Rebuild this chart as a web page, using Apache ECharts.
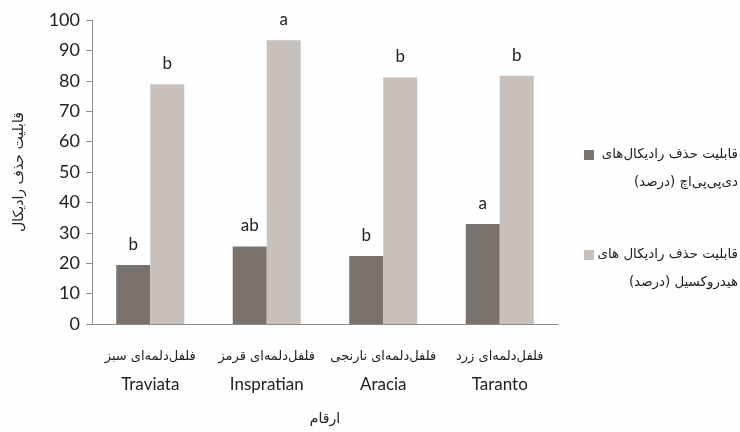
<!DOCTYPE html>
<html>
<head>
<meta charset="utf-8">
<script src="https://cdn.jsdelivr.net/npm/echarts@6/dist/echarts.min.js"></script>
<style>html,body{margin:0;padding:0;background:#fff}#c{width:740px;height:432px}</style>
</head>
<body>
<div id="c"></div>
<script>
const categoriesFa = ['فلفل‌دلمه‌ای سبز', 'فلفل‌دلمه‌ای قرمز', 'فلفل‌دلمه‌ای نارنجی', 'فلفل‌دلمه‌ای زرد'];
const categoriesEn = ['Traviata', 'Inspratian', 'Aracia', 'Taranto'];
const seriesNames = ['قابلیت حذف رادیکال‌های\nدی‌پی‌پی‌اچ (درصد)', 'قابلیت حذف رادیکال های\nهیدروکسیل (درصد)'];
const dpphValues = [19.4, 25.5, 22.4, 32.9];
const hydroxylValues = [78.9, 93.3, 81.1, 81.7];
const dpphLetters = ['b', 'ab', 'b', 'a'];
const hydroxylLetters = ['b', 'a', 'b', 'b'];
const yTicks = [0, 10, 20, 30, 40, 50, 60, 70, 80, 90, 100];
const yAxisName = 'قابلیت حذف رادیکال';
const xAxisName = 'ارقام';

const COLORS = ['#7a726d', '#c8c0bb'];
const FONT = 'Lato, "DejaVu Sans", sans-serif';
const FA_FONT = '"DejaVu Sans", sans-serif';
const AXIS = '#8c8c8c';
const chart = echarts.init(document.getElementById('c'));
function mkData(vals, letters) {
  return vals.map((v, i) => ({ value: v, label: { formatter: letters[i] } }));
}
// legend drawn as graphic items (right-aligned RTL text, icon beside first line)
const legendGraphics = [];
seriesNames.forEach((name, i) => {
  const cy = 155 + i * 100;
  legendGraphics.push({
    type: 'rect', left: 584, top: cy - 5,
    shape: { width: 10, height: 10 },
    style: { fill: COLORS[i] }
  });
  legendGraphics.push({
    type: 'text', x: 738, y: cy - 14,
    style: {
      text: name, align: 'right', verticalAlign: 'top',
      font: '13.4px "DejaVu Sans", sans-serif', lineHeight: 28, fill: '#222'
    }
  });
});
chart.setOption({
  backgroundColor: '#fefefe',
  animation: false,
  grid: { left: 92, right: 182, top: 20, bottom: 108 },
  graphic: legendGraphics,
  xAxis: {
    type: 'category',
    data: categoriesEn,
    name: xAxisName,
    nameLocation: 'middle',
    nameGap: 88,
    nameTextStyle: { fontSize: 14, color: '#222', fontFamily: FA_FONT },
    axisLine: { lineStyle: { color: AXIS } },
    axisTick: { length: 6, lineStyle: { color: AXIS } },
    axisLabel: {
      interval: 0,
      margin: 18,
      formatter: function (v, i) { return '{fa|' + categoriesFa[i] + '}\n{en|' + v + '}'; },
      rich: {
        fa: { fontSize: 13, lineHeight: 30, color: '#222', fontFamily: FA_FONT },
        en: { fontSize: 17, lineHeight: 26, color: '#222', fontFamily: FONT }
      }
    }
  },
  yAxis: {
    type: 'value',
    min: 0,
    max: 100,
    interval: 10,
    name: yAxisName,
    nameLocation: 'middle',
    nameGap: 66,
    nameRotate: 90,
    nameTextStyle: { fontSize: 14, color: '#222', fontFamily: FA_FONT },
    axisLine: { show: true, lineStyle: { color: AXIS } },
    axisTick: { show: true, length: 6, lineStyle: { color: AXIS } },
    splitLine: { show: false },
    axisLabel: {
      margin: 12,
      fontSize: 18,
      color: '#222',
      fontFamily: FONT,
      formatter: function (v) { return yTicks.indexOf(v) >= 0 ? String(v) : ''; }
    }
  },
  series: [
    {
      name: seriesNames[0],
      type: 'bar',
      barWidth: 34,
      barGap: '0%',
      itemStyle: { color: COLORS[0] },
      label: { show: true, position: 'top', distance: 12, fontSize: 17, color: '#222', fontFamily: FONT },
      data: mkData(dpphValues, dpphLetters)
    },
    {
      name: seriesNames[1],
      type: 'bar',
      barWidth: 34,
      barGap: '0%',
      itemStyle: { color: COLORS[1] },
      label: { show: true, position: 'top', distance: 12, fontSize: 17, color: '#222', fontFamily: FONT },
      data: mkData(hydroxylValues, hydroxylLetters)
    }
  ]
});
</script>
</body>
</html>
